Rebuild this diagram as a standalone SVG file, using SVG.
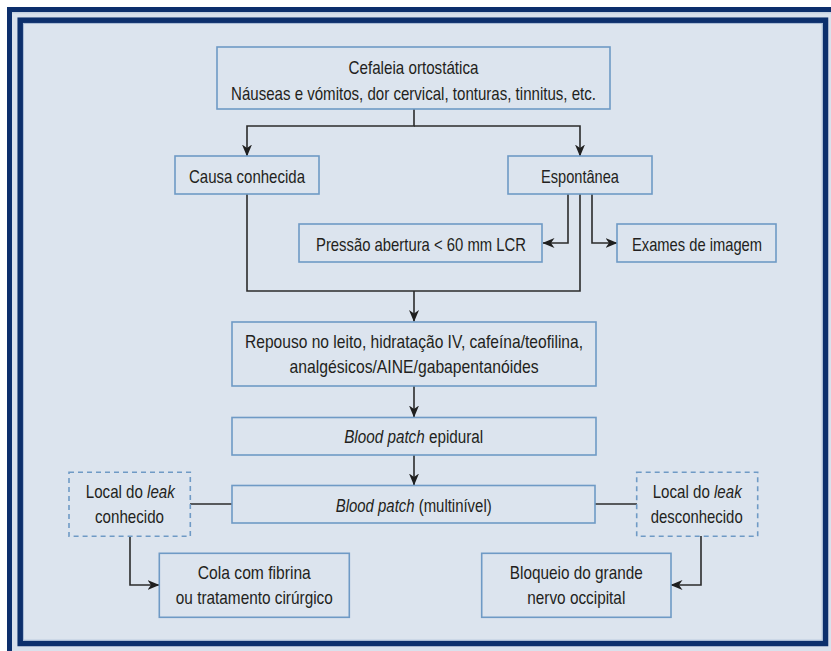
<svg xmlns="http://www.w3.org/2000/svg" width="831" height="651" viewBox="0 0 831 651">
  <style>
    .box { fill: #dce4ee; stroke: #6f9ac5; stroke-width: 1.6; }
    .dash { fill: none; stroke: #6f9ac5; stroke-width: 1.6; stroke-dasharray: 5 4; }
    .wire { fill: none; stroke: #2b2b2b; stroke-width: 1.6; }
    .arrow { marker-end: url(#head); }
    text { font-family: "Liberation Sans", Arial, sans-serif; font-size: 19px; fill: #231f20; text-anchor: middle; }
    .it { font-style: italic; }
  </style>
  <defs>
    <marker id="head" viewBox="0 0 12 10" refX="11.5" refY="5" markerWidth="12" markerHeight="10" markerUnits="userSpaceOnUse" orient="auto">
      <path d="M0,0 L12,5 L0,10 L3.5,5 Z" fill="#1f1f1f"/>
    </marker>
  </defs>

  <!-- page and double frame -->
  <rect x="0" y="0" width="831" height="651" fill="#ffffff"/>
  <rect x="9.5" y="9.5" width="840" height="660" fill="#d9e1ec" stroke="#0c2f6c" stroke-width="5"/>
  <line x1="12" y1="12.8" x2="831" y2="12.8" stroke="#b9c8dc" stroke-width="1"/>
  <rect x="20.2" y="20.2" width="805.3" height="623.3" fill="#dce4ee" stroke="#0c2f6c" stroke-width="5.5"/>
  <rect x="23.5" y="23.5" width="798.7" height="616.7" fill="none" stroke="#a9bcd6" stroke-width="1"/>

  <!-- connectors -->
  <g id="connectors">
    <path class="wire arrow" d="M414,109 V126 H247 V156"/>
    <path class="wire arrow" d="M414,126 H580 V156"/>
    <path class="wire arrow" d="M568,194 V243 H543"/>
    <path class="wire arrow" d="M592,194 V243 H617"/>
    <path class="wire" d="M247,194 V291 H580 V194"/>
    <path class="wire arrow" d="M414,291 V321.5"/>
    <path class="wire arrow" d="M414,386 V417"/>
    <path class="wire arrow" d="M414,455 V485"/>
    <path class="wire" d="M190,504 H232"/>
    <path class="wire" d="M595,504 H637"/>
    <path class="wire arrow" d="M130,536 V585 H159"/>
    <path class="wire arrow" d="M701,536 V585 H671"/>
  </g>

  <g id="sintomas">
    <rect class="box" x="217" y="47" width="393" height="62"/>
    <text x="413.5" y="73.5" textLength="130" lengthAdjust="spacingAndGlyphs">Cefaleia ortostática</text>
    <text x="413.5" y="99.5" textLength="365" lengthAdjust="spacingAndGlyphs">Náuseas e vómitos, dor cervical, tonturas, tinnitus, etc.</text>
  </g>

  <g id="causa-conhecida">
    <rect class="box" x="175" y="156" width="144" height="38"/>
    <text x="247" y="182.5" textLength="116" lengthAdjust="spacingAndGlyphs">Causa conhecida</text>
  </g>

  <g id="espontanea">
    <rect class="box" x="508" y="156" width="144" height="38"/>
    <text x="580" y="182.5" textLength="78" lengthAdjust="spacingAndGlyphs">Espontânea</text>
  </g>

  <g id="pressao">
    <rect class="box" x="299" y="224" width="243" height="38"/>
    <text x="421" y="250.5" textLength="210" lengthAdjust="spacingAndGlyphs">Pressão abertura &lt; 60 mm LCR</text>
  </g>

  <g id="exames">
    <rect class="box" x="617" y="224" width="159" height="38"/>
    <text x="697" y="250.5" textLength="130" lengthAdjust="spacingAndGlyphs">Exames de imagem</text>
  </g>

  <g id="repouso">
    <rect class="box" x="232" y="322" width="364" height="64"/>
    <text x="414" y="348.3" textLength="338" lengthAdjust="spacingAndGlyphs">Repouso no leito, hidratação IV, cafeína/teofilina,</text>
    <text x="414" y="373.3" textLength="249" lengthAdjust="spacingAndGlyphs">analgésicos/AINE/gabapentanóides</text>
  </g>

  <g id="blood-patch-epidural">
    <rect class="box" x="232" y="417.5" width="364" height="37.5"/>
    <text transform="translate(413.7,443.3) scale(0.803,1)"><tspan class="it">Blood patch</tspan> epidural</text>
  </g>

  <g id="blood-patch-multinivel">
    <rect class="box" x="232" y="485.5" width="363" height="37.5"/>
    <text transform="translate(413.7,511.7) scale(0.786,1)"><tspan class="it">Blood patch</tspan> (multinível)</text>
  </g>

  <g id="leak-conhecido">
    <rect class="dash" x="69" y="472.3" width="121.3" height="64"/>
    <text transform="translate(130.3,498.3) scale(0.795,1)">Local do <tspan class="it">leak</tspan></text>
    <text x="129.5" y="523.3" textLength="69" lengthAdjust="spacingAndGlyphs">conhecido</text>
  </g>

  <g id="leak-desconhecido">
    <rect class="dash" x="636.7" y="472.3" width="121" height="64"/>
    <text transform="translate(697.2,498.3) scale(0.795,1)">Local do <tspan class="it">leak</tspan></text>
    <text x="696.7" y="523.3" textLength="92" lengthAdjust="spacingAndGlyphs">desconhecido</text>
  </g>

  <g id="cola-fibrina">
    <rect class="box" x="159.3" y="553.3" width="190" height="64"/>
    <text x="254.3" y="579.3" textLength="113" lengthAdjust="spacingAndGlyphs">Cola com fibrina</text>
    <text x="254.3" y="604" textLength="157" lengthAdjust="spacingAndGlyphs">ou tratamento cirúrgico</text>
  </g>

  <g id="bloqueio-occipital">
    <rect class="box" x="481.7" y="553.3" width="189.3" height="64"/>
    <text x="576.3" y="579.3" textLength="133" lengthAdjust="spacingAndGlyphs">Bloqueio do grande</text>
    <text x="576.3" y="604" textLength="98" lengthAdjust="spacingAndGlyphs">nervo occipital</text>
  </g>
</svg>
